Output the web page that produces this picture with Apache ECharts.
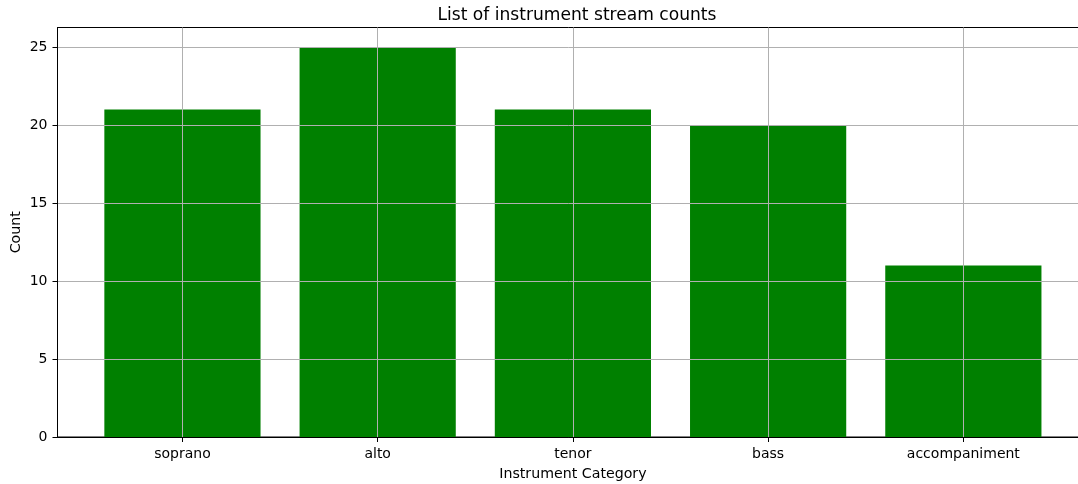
<!DOCTYPE html>
<html><head><meta charset="utf-8">
<script src="https://cdn.jsdelivr.net/npm/echarts@6/dist/echarts.min.js"></script>
<style>html,body{margin:0;padding:0;background:#fff}#c{width:1078px;height:484px}</style>
</head><body><div id="c"></div>
<script>
const categories = ['soprano', 'alto', 'tenor', 'bass', 'accompaniment'];
const counts = [21, 25, 21, 20, 11];
const yTicks = [0, 5, 10, 15, 20, 25];

const idx = categories.map((_, i) => i);
const font = 'DejaVu Sans';
const chart = echarts.init(document.getElementById('c'), null, {renderer: 'canvas'});
chart.setOption({
  animation: false,
  backgroundColor: '#fff',
  title: {
    text: 'List of instrument stream counts',
    left: 572, top: 2, textAlign: 'center',
    textStyle: {fontFamily: font, fontSize: 17.1, fontWeight: 'normal', color: '#000'}
  },
  grid: {left: 57.5, width: 1030.8, top: 27.5, height: 409.5, containLabel: false,
         outerBoundsMode: 'none',
         show: true, borderColor: '#000', borderWidth: 1, backgroundColor: 'transparent'},
  xAxis: {
    type: 'value', min: -0.64, max: 4.64, z: 3,
    name: 'Instrument Category', nameLocation: 'middle', nameGap: 30, nameMoveOverlap: false,
    nameTextStyle: {fontFamily: font, fontSize: 14.2, color: '#000'},
    axisLine: {show: true, onZero: false, lineStyle: {color: '#000', width: 1}},
    axisTick: {show: true, length: 5, lineStyle: {color: '#000', width: 1}, customValues: idx},
    axisLabel: {customValues: idx, formatter: v => categories[Math.round(v)] || '',
      fontFamily: font, fontSize: 14, color: '#000', margin: 10},
    splitLine: {show: true, lineStyle: {color: '#b0b0b0', width: 1}}
  },
  yAxis: {
    type: 'value', min: 0, max: 26.25, z: 3,
    name: 'Count', nameLocation: 'middle', nameGap: 34, nameRotate: 90, nameMoveOverlap: false,
    nameTextStyle: {fontFamily: font, fontSize: 14.2, color: '#000'},
    axisLine: {show: true, onZero: false, lineStyle: {color: '#000', width: 1}},
    axisTick: {show: true, length: 5, lineStyle: {color: '#000', width: 1}, customValues: yTicks},
    axisLabel: {customValues: yTicks, fontFamily: font, fontSize: 14, color: '#000', margin: 10},
    splitLine: {show: true, lineStyle: {color: '#b0b0b0', width: 1}}
  },
  series: [{
    type: 'bar',
    data: counts.map((v, i) => [i, v]),
    barWidth: 156.2,
    itemStyle: {color: '#008000'},
    z: 1
  }]
});
</script></body></html>
